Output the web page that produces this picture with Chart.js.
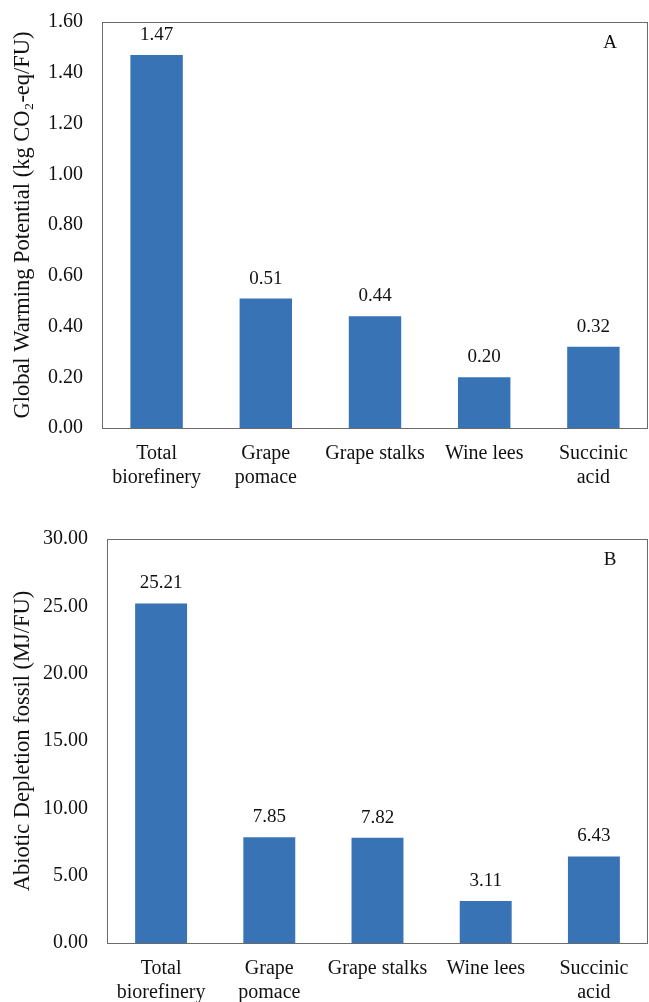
<!DOCTYPE html>
<html>
<head>
<meta charset="utf-8">
<script src="https://cdn.jsdelivr.net/npm/chart.js@4"></script>
<style>
  html, body { margin: 0; padding: 0; background: #fff; }
  body { width: 649px; height: 1002px; position: relative; overflow: hidden; }
  .wrap { position: absolute; left: 0; width: 649px; }
  #w1 { top: 0; height: 495px; }
  #w2 { top: 500px; height: 502px; }
</style>
</head>
<body>
<div class="wrap" id="w1"><canvas id="c1"></canvas></div>
<div class="wrap" id="w2"><canvas id="c2"></canvas></div>
<script>
const categories = [["Total", "biorefinery"], ["Grape", "pomace"], "Grape stalks", "Wine lees", ["Succinic", "acid"]];
const gwpValues = [1.47, 0.51, 0.44, 0.20, 0.32];
const adfValues = [25.21, 7.85, 7.82, 3.11, 6.43];
const gwpTitle = "Global Warming Potential (kg CO\u2082-eq/FU)";
const adfTitle = "Abiotic Depletion fossil (MJ/FU)";
const gwpMax = 1.6, gwpStep = 0.2;
const adfMax = 30, adfStep = 5;

const FONT = "'Liberation Serif', 'Times New Roman', serif";
const BAR = "#3873b6";

const decor = {
  id: 'decor',
  afterDatasetsDraw(chart, args, opts) {
    const ctx = chart.ctx;
    const a = chart.chartArea;
    ctx.save();
    ctx.strokeStyle = '#6b6b6b';
    ctx.lineWidth = 1;
    ctx.strokeRect(Math.round(a.left) + 0.5, Math.round(a.top) + 0.5, Math.round(a.right - a.left) - 1, Math.round(a.bottom - a.top));
    ctx.fillStyle = '#111';
    ctx.font = "19px " + FONT;
    ctx.textAlign = 'center';
    ctx.textBaseline = 'middle';
    const meta = chart.getDatasetMeta(0);
    const data = chart.data.datasets[0].data;
    meta.data.forEach((bar, i) => {
      ctx.fillText(data[i].toFixed(2), bar.x, bar.y - 20);
    });
    ctx.font = "19px " + FONT;
    ctx.fillText(opts.letter, a.right - 38, a.top + 21);
    ctx.restore();
  }
};

function makeChart(id, values, title, max, step, letter, yWidth, xHeight, padTop, titlePad) {
  return new Chart(document.getElementById(id), {
    type: 'bar',
    data: {
      labels: categories,
      datasets: [{ data: values, backgroundColor: BAR, borderWidth: 0, barPercentage: 0.48, categoryPercentage: 1.0 }]
    },
    options: {
      responsive: true,
      maintainAspectRatio: false,
      animation: false,
      devicePixelRatio: 1,
      layout: { padding: { top: padTop, right: 1, left: 0, bottom: 0 } },
      plugins: { legend: { display: false }, tooltip: { enabled: false }, decor: { letter: letter } },
      scales: {
        x: {
          grid: { display: false, drawTicks: false },
          border: { display: false },
          ticks: { color: '#111', font: { family: FONT, size: 20, lineHeight: 1.2 }, padding: 14, maxRotation: 0, autoSkip: false },
          afterFit(s) { s.height = xHeight; s.paddingLeft = 0; s.paddingRight = 0; s.paddingTop = 0; s.paddingBottom = 0; }
        },
        y: {
          min: 0, max: max,
          grid: { display: false, drawTicks: false },
          border: { display: false },
          ticks: { stepSize: step, color: '#111', font: { family: FONT, size: 20 }, padding: 19, callback: v => Number(v).toFixed(2) },
          title: { display: true, text: title, color: '#111', font: { family: FONT, size: 22.5, lineHeight: 1.2 }, padding: { top: 10, bottom: 0 } },
          afterFit(s) { s.width = yWidth; s.paddingTop = 0; s.paddingBottom = 0; s.paddingLeft = 0; s.paddingRight = 0; }
        }
      }
    },
    plugins: [decor]
  });
}

makeChart('c1', gwpValues, gwpTitle, gwpMax, gwpStep, 'A', 102, 67, 22, 10);
makeChart('c2', adfValues, adfTitle, adfMax, adfStep, 'B', 107, 59, 39, 10);
</script>
</body>
</html>
